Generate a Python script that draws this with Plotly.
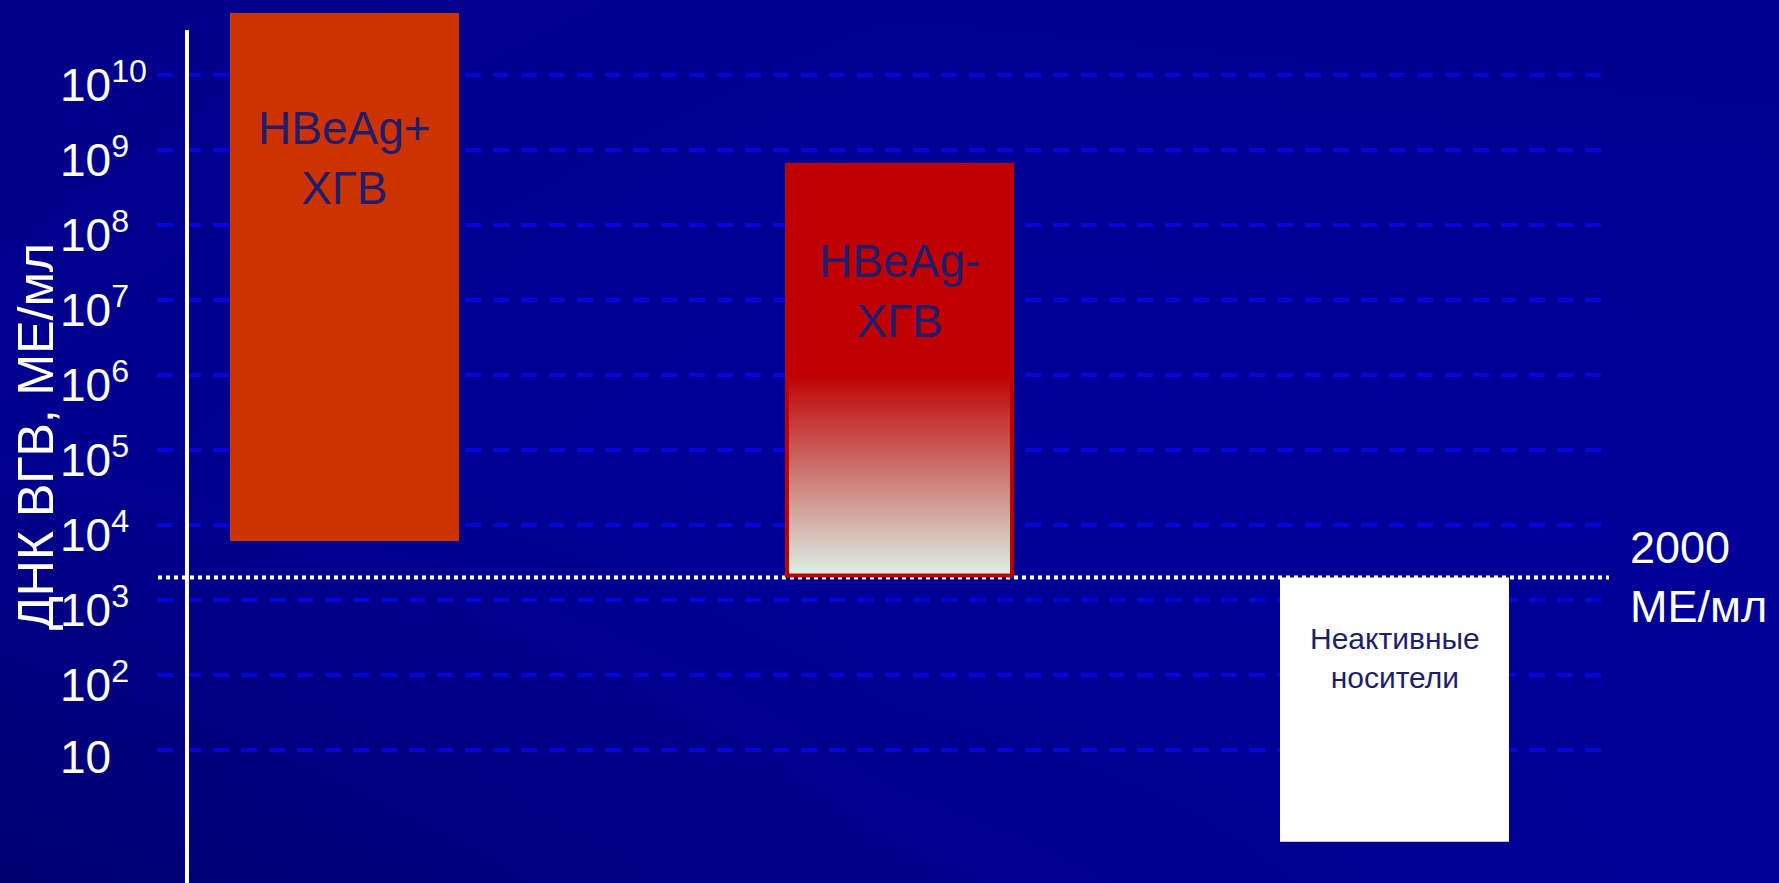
import math
import plotly.graph_objects as go

# ---- data -------------------------------------------------------------
CATEGORIES = ["HBeAg+ ХГВ", "HBeAg- ХГВ", "Неактивные носители"]
BAR_TEXT = ["HBeAg+<br>ХГВ", "HBeAg-<br>ХГВ", "Неактивные<br>носители"]
DNA_LOW = [6.1e3, 2.0e3, 0.6]        # МЕ/мл, lower edge of each range
DNA_HIGH = [6.7e10, 6.7e8, 2.0e3]    # МЕ/мл, upper edge of each range
THRESHOLD = 2000                     # МЕ/мл
THRESHOLD_TEXT = "2000<br>МЕ/мл"
TICK_VALUES = [10 ** k for k in range(1, 11)]
TICK_TEXT = ["10"] + [f"10<sup>{k}</sup>" for k in range(2, 11)]
Y_TITLE = "ДНК ВГВ, МЕ/мл"

# ---- layout / style ---------------------------------------------------
W, H = 1779, 883
FONT = "Liberation Sans, Arial, sans-serif"
X_RANGE = [-0.6207, 2.5847]
Y_RANGE = [-0.7733, 11.0]            # log10 units
PX_PER_X = 555                       # pixels per x unit
PX_PER_DECADE = 75                   # pixels per decade on y
BAR_X = [0.0, 1.0, 1.8919]
BAR_W = [0.4126, 0.4126, 0.4126]
BAR_COLORS = ["#CC3300", "#C00000", "#FFFFFF"]
LABEL_Y = [8.887, 7.12, 2.233]       # log10 position of label blocks
LABEL_SIZE = [46, 46, 30]
TEXT_DARK = "#1E1E6C"
GRID_X = [-0.3378, 2.264]
DOT_X = [-0.336, 2.2784]
AXIS_X = -0.2838
FADE_FROM = 1.05e6                   # where the HBeAg- bar starts to fade
BORDER_PX = 4

fig = go.Figure()

# background wash
bx = [X_RANGE[0], sum(X_RANGE) / 2, X_RANGE[1]]
by = [10 ** Y_RANGE[0], 10 ** (sum(Y_RANGE) / 2), 10 ** Y_RANGE[1]]
bz = [[112, 138, 152],
      [142, 154, 152],
      [136, 144, 142]]
fig.add_trace(go.Heatmap(
    x=bx, y=by, z=bz, zmin=96, zmax=160, zsmooth="best",
    colorscale=[[0, "rgb(0,0,96)"], [1, "rgb(0,0,160)"]],
    showscale=False, hoverinfo="skip"))

# dashed decade gridlines
for v in TICK_VALUES:
    fig.add_trace(go.Scatter(
        x=GRID_X, y=[v, v], mode="lines",
        line=dict(color="#0505DA", width=4, dash="16px,12px"),
        hoverinfo="skip"))

# 2000 МЕ/мл threshold
fig.add_trace(go.Scatter(
    x=DOT_X, y=[THRESHOLD, THRESHOLD], mode="lines",
    line=dict(color="#FFFFFF", width=4, dash="4px,4px"),
    hoverinfo="skip"))


def rect(x0, x1, y0, y1):
    return [x0, x1, x1, x0, x0], [y0, y0, y1, y1, y0]


# floating range bars
for i, name in enumerate(CATEGORIES):
    xs, ys = rect(BAR_X[i] - BAR_W[i] / 2, BAR_X[i] + BAR_W[i] / 2,
                  DNA_LOW[i], DNA_HIGH[i])
    fig.add_trace(go.Scatter(
        x=xs, y=ys, name=name, mode="lines", fill="toself",
        fillcolor=BAR_COLORS[i], line=dict(width=0), hoverinfo="skip"))

# fading lower part of the HBeAg- bar, inside its red border
i = 1
bx_in = BORDER_PX / PX_PER_X
by_in = 10 ** (BORDER_PX / PX_PER_DECADE)
xs, ys = rect(BAR_X[i] - BAR_W[i] / 2 + bx_in, BAR_X[i] + BAR_W[i] / 2 - bx_in,
              DNA_LOW[i] * by_in, FADE_FROM)
fig.add_trace(go.Scatter(
    x=xs, y=ys, mode="lines", fill="toself", line=dict(width=0),
    fillgradient=dict(type="vertical",
                      colorscale=[[0, "#DCEEE2"], [1, "#BE0000"]]),
    hoverinfo="skip"))

annotations = []
for i, txt in enumerate(BAR_TEXT):
    annotations.append(dict(
        x=BAR_X[i], y=LABEL_Y[i], xref="x", yref="y", text=txt,
        showarrow=False, xanchor="center", yanchor="middle",
        font=dict(family=FONT, size=LABEL_SIZE[i], color=TEXT_DARK)))

for v, txt in zip(TICK_VALUES, TICK_TEXT):
    annotations.append(dict(
        x=58 / W, y=math.log10(v), xref="paper", yref="y", text=txt,
        showarrow=False, xanchor="left", yanchor="middle", yshift=-7,
        font=dict(family=FONT, size=46, color="#FFFFFF")))

annotations.append(dict(
    x=36 / W, y=(H - 437) / H, xref="paper", yref="paper", text=Y_TITLE,
    textangle=-90, showarrow=False, xanchor="center", yanchor="middle",
    font=dict(family=FONT, size=50, color="#FFFFFF")))

annotations.append(dict(
    x=1628 / W, y=math.log10(THRESHOLD), xref="paper", yref="y",
    text=THRESHOLD_TEXT, showarrow=False, xanchor="left", yanchor="middle",
    align="left", font=dict(family=FONT, size=45, color="#FFFFFF")))

fig.update_layout(
    width=W, height=H, margin=dict(l=0, r=0, t=0, b=0),
    paper_bgcolor="#000090", plot_bgcolor="#000090",
    showlegend=False, hovermode=False,
    annotations=annotations,
    shapes=[dict(type="line", xref="x", yref="paper",
                 x0=AXIS_X, x1=AXIS_X, y0=0, y1=1 - 30 / H,
                 line=dict(color="#FFFFFF", width=4), layer="above")],
    xaxis=dict(range=X_RANGE, showgrid=False, zeroline=False,
               showticklabels=False, showline=False, fixedrange=True),
    yaxis=dict(type="log", range=Y_RANGE, showgrid=False, zeroline=False,
               showticklabels=False, showline=False, fixedrange=True),
)

fig.write_html("out.html")
